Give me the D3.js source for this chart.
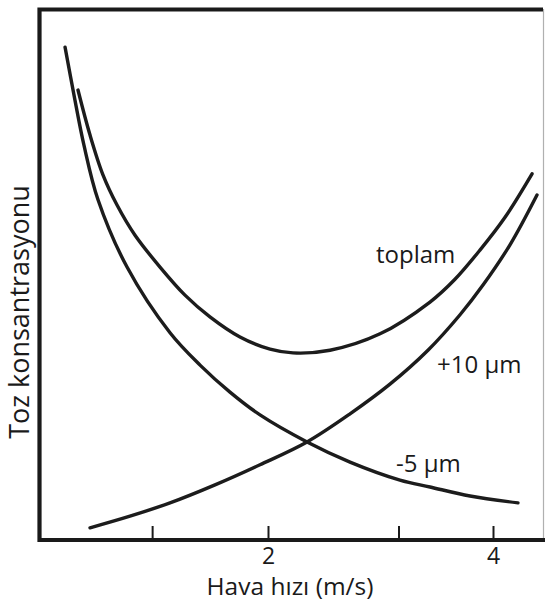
<!DOCTYPE html>
<html>
<head>
<meta charset="utf-8">
<script src="https://cdn.jsdelivr.net/npm/d3@7"></script>
<style>
  body { margin: 0; background: #fff; }
  text { font-family: "Open Sans", sans-serif; fill: #1a1a1a; }
</style>
</head>
<body>
<script>
// Air velocity (m/s) vs dust concentration (arbitrary units, 0-100)
const minus5X = [0.196, 0.284, 0.364, 0.489, 0.747, 1.129, 1.396, 1.662, 1.929, 2.347, 2.729, 3.173, 3.440, 3.796, 4.222];
const minus5Y = [93.0, 83.0, 74.5, 64.2, 51.5, 39.1, 33.0, 27.9, 23.6, 18.5, 14.7, 11.3, 10.0, 8.3, 7.0];

const plus10X = [0.418, 0.773, 1.129, 1.529, 1.929, 2.347, 2.729, 3.084, 3.422, 3.707, 3.911, 4.151, 4.391];
const plus10Y = [2.3, 4.5, 7.0, 10.4, 14.2, 18.5, 23.8, 29.4, 35.8, 42.5, 48.1, 55.7, 65.1];

const totalX = [0.311, 0.418, 0.533, 0.658, 0.818, 1.040, 1.262, 1.484, 1.751, 2.018, 2.222, 2.551, 2.996, 3.440, 3.662, 3.884, 4.107, 4.347];
const totalY = [84.9, 76.4, 68.9, 63.2, 57.5, 51.5, 46.2, 42.1, 38.3, 36.0, 35.3, 35.8, 38.9, 44.9, 49.2, 54.7, 60.9, 69.1];

const xTickValues = [0.97, 2, 3.16, 4];
const xTickLabels = ["", "2", "", "4"];

const width = 545, height = 601;

const x = d3.scaleLinear().domain([0, 4.5]).range([43, 43 + 4.5 * 112.5]);
const y = d3.scaleLinear().domain([0, 100]).range([540, 10]);

const svg = d3.select("body").append("svg")
    .attr("width", width)
    .attr("height", height);

// frame: thick left, top and bottom, faint right edge
svg.append("line")
    .attr("x1", 543.5).attr("x2", 543.5)
    .attr("y1", 9).attr("y2", 540)
    .attr("stroke", "#b0b0b0").attr("stroke-width", 1.2);

svg.append("path")
    .attr("d", `M543,${y(100) - 0.5}H${x(0) - 3.5}V${y(0)}H545`)
    .attr("fill", "none")
    .attr("stroke", "#1a1a1a")
    .attr("stroke-width", 4.2);

// x axis ticks pointing up into the plot
const xAxis = d3.axisBottom(x)
    .tickValues(xTickValues)
    .tickSizeInner(-14)
    .tickSizeOuter(0)
    .tickPadding(8)
    .tickFormat((d, i) => xTickLabels[i]);

const gx = svg.append("g")
    .attr("transform", `translate(0,${y(0)})`)
    .call(xAxis);
gx.select(".domain").remove();
gx.selectAll(".tick line").attr("stroke", "#1a1a1a").attr("stroke-width", 2);
gx.selectAll(".tick text")
    .style("font-family", "'Open Sans', sans-serif")
    .style("font-size", "23px")
    .attr("fill", "#1a1a1a");

// curves
const line = d3.line()
    .x(d => x(d[0]))
    .y(d => y(d[1]))
    .curve(d3.curveCatmullRom.alpha(0.5));

const series = [
    d3.zip(minus5X, minus5Y),
    d3.zip(plus10X, plus10Y),
    d3.zip(totalX, totalY)
];

svg.selectAll(".curve")
    .data(series)
    .enter()
    .append("path")
    .attr("class", "curve")
    .attr("d", line)
    .attr("fill", "none")
    .attr("stroke", "#1c1c1c")
    .attr("stroke-width", 3.4)
    .attr("stroke-linecap", "round");

// curve labels
svg.append("text").attr("x", 376).attr("y", 263).style("font-size", "24px").text("toplam");
svg.append("text").attr("x", 437).attr("y", 373).style("font-size", "24px").text("+10 µm");
svg.append("text").attr("x", 396).attr("y", 472).style("font-size", "24px").text("-5 µm");

// axis titles
svg.append("text")
    .attr("x", 290).attr("y", 595)
    .attr("text-anchor", "middle")
    .style("font-size", "24.5px")
    .text("Hava hızı (m/s)");

svg.append("text")
    .attr("transform", "translate(29,312) rotate(-90)")
    .attr("text-anchor", "middle")
    .style("font-size", "27px")
    .text("Toz konsantrasyonu");
</script>
</body>
</html>
